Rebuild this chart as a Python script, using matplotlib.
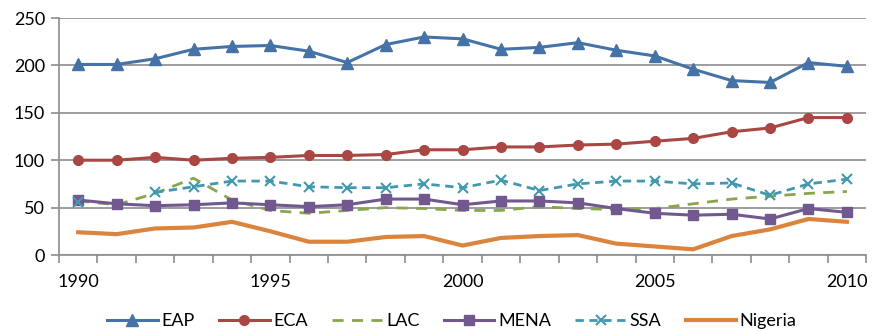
import numpy as np
import matplotlib
matplotlib.use("Agg")
import matplotlib.pyplot as plt

plt.rcParams['font.family'] = ['Lato', 'DejaVu Sans']

years = list(range(1990, 2011))

eap = [201, 201, 207, 217, 220, 221, 215, 203, 222, 230, 228, 217, 219, 224, 216, 210, 196, 184, 182, 203, 199]
eca = [100, 100, 103, 100, 102, 103, 105, 105, 106, 111, 111, 114, 114, 116, 117, 120, 123, 130, 134, 145, 145]
lac = [57, 53, 65, 81, 58, 47, 44, 47, 50, 49, 47, 47, 51, 49, 48, 49, 54, 59, 62, 65, 67]
mena = [58, 54, 52, 53, 55, 53, 51, 53, 59, 59, 53, 57, 57, 55, 49, 44, 42, 43, 38, 49, 45]
ssa = [56, np.nan, 66, 72, 78, 78, 72, 71, 71, 75, 71, 79, 68, 75, 78, 78, 75, 76, 63, 75, 80]
nigeria = [24, 22, 28, 29, 35, 25, 14, 14, 19, 20, 10, 18, 20, 21, 12, 9, 6, 20, 27, 38, 35]

tick_years = [1990, 1995, 2000, 2005, 2010]

x = np.arange(len(years))

fig = plt.figure(figsize=(8.74, 3.31), dpi=100)
ax = fig.add_axes([0.0675, 0.2296, 0.9235, 0.716])

ax.plot(x, eap, color='#4572A7', lw=2.2, marker='^', ms=9, label='EAP')
ax.plot(x, eca, color='#AA4643', lw=2.2, marker='o', ms=7, label='ECA')
ax.plot(x, lac, color='#89A54E', lw=2.0, ls=(0, (4, 3)), label='LAC')
ax.plot(x, mena, color='#71588F', lw=2.2, marker='s', ms=7, label='MENA')
ax.plot(x, ssa, color='#4198AF', lw=2.0, ls=(0, (3, 2)), marker='x', ms=7, mew=1.5, label='SSA')
ax.plot(x, nigeria, color='#DB843D', lw=3.0, label='Nigeria')

ax.set_xlim(-0.5, len(years) - 0.5)
ax.set_ylim(0, 250)
ax.set_yticks([0, 50, 100, 150, 200, 250])
ax.yaxis.grid(True, color='#8c8c8c', lw=1.2)
ax.set_axisbelow(True)

ax.set_xticks(np.arange(-0.5, len(years), 1.0))
ax.set_xticklabels([])
ax.set_xticks([years.index(y) for y in tick_years], minor=True)
ax.set_xticklabels([str(y) for y in tick_years], minor=True)
ax.tick_params(axis='x', which='major', length=6, color='#8c8c8c', width=1.2)
ax.tick_params(axis='x', which='minor', length=0, pad=14, labelsize=13)
ax.tick_params(axis='y', length=6, color='#8c8c8c', width=1.2, labelsize=13, pad=4)

for s in ['top', 'right']:
    ax.spines[s].set_visible(False)
for s in ['left', 'bottom']:
    ax.spines[s].set_color('#8c8c8c')
    ax.spines[s].set_linewidth(1.2)

fig.legend(*ax.get_legend_handles_labels(), loc='center', bbox_to_anchor=(0.517, 0.03),
           ncol=6, frameon=False, fontsize=13, handlelength=2.8, columnspacing=1.35,
           handletextpad=0.2, borderpad=0.1)

fig.savefig("out.png", dpi=100)
